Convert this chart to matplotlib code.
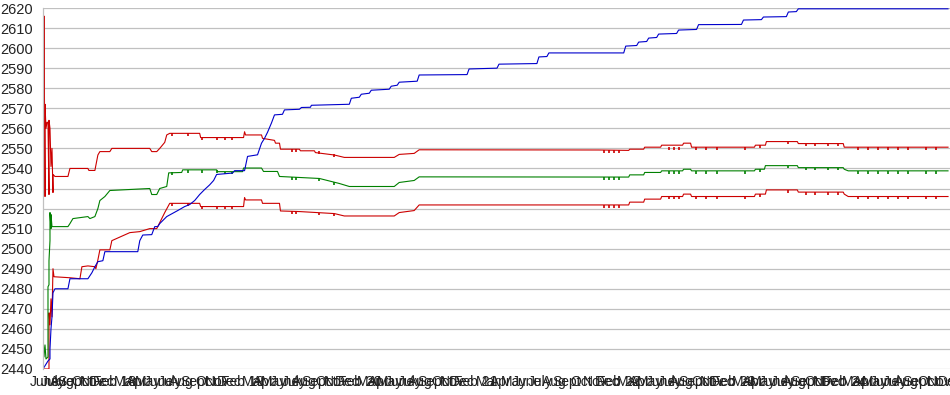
import matplotlib
matplotlib.use("Agg")
import matplotlib.pyplot as plt

# game index = pixel column - 43 in the reference
blue_x = [0, 5, 7, 7, 8, 9, 10, 12, 25, 27, 45, 49, 52, 55, 60, 62, 95, 97, 100, 109, 112, 115, 117,
          124, 135, 142, 147, 152, 157, 162, 167, 171, 174, 190, 192, 202, 205, 215, 219, 222,
          225, 229, 232, 240, 242, 257, 259, 268, 269, 307, 309, 317, 319, 327, 329, 347, 349, 355,
          357, 375, 377, 425, 427, 455, 457, 495, 497, 505, 507, 582, 584, 595, 597, 605, 607, 615,
          617, 635, 637, 655, 657, 700, 702, 720, 722, 745, 747, 755, 757, 907]
blue_y = [2440, 2444, 2445, 2450, 2460, 2466, 2478, 2480, 2480, 2485, 2485, 2488, 2491, 2493.5, 2494,
          2498.5, 2498.5, 2504, 2506.8, 2507, 2511, 2511, 2512.5, 2516, 2519, 2521, 2522,
          2524, 2527, 2529.5, 2531.8, 2534, 2537, 2537.7, 2538.9, 2538.9, 2546, 2546.8, 2552.6,
          2555, 2558, 2562.7, 2566.7, 2567, 2569.2, 2569.5, 2570.4, 2570.5, 2571.5, 2572, 2575,
          2575.5, 2577, 2577.5, 2579, 2579.5, 2581, 2581.5, 2583, 2583.5, 2586.6, 2586.8, 2589.6,
          2590, 2592, 2592.3, 2595.6, 2595.8, 2597.6, 2597.6, 2601, 2601.3, 2603, 2603.3, 2605,
          2605.3, 2607, 2607.3, 2609, 2609.3, 2611.7, 2611.8, 2614, 2614.2, 2615.5, 2615.7, 2618,
          2618.2, 2619.6, 2619.6]

green_x = [0, 0, 1, 2, 3, 5, 5, 6, 6, 7, 7, 8, 8, 9, 25, 27, 30, 45, 47, 52, 55, 57, 62, 67, 107,
           109, 114, 117, 124, 126, 139, 140, 174, 175, 200, 201, 219, 221, 235, 237, 257, 277, 297,
           307, 352, 357, 372, 377, 587, 588, 602, 603, 619, 620, 641, 642, 649, 650, 713, 714, 723,
           724, 756, 757, 802, 803, 807, 907]
green_y = [2440, 2458, 2446, 2452, 2445, 2446, 2481, 2482, 2494, 2504, 2518, 2510, 2517, 2511, 2511,
           2512.5, 2515, 2516, 2515, 2516, 2520, 2524, 2526, 2529, 2530, 2527, 2527, 2530, 2531,
           2537.8, 2538, 2539.3, 2539.3, 2538.4, 2538.4, 2540.2, 2540.2, 2538.5, 2538.5, 2536,
           2535.5, 2535, 2532.5, 2531, 2531, 2533, 2534, 2535.8, 2535.7, 2536.8, 2536.8, 2538,
           2538, 2538.8, 2538.8, 2539.6, 2539.6, 2538.8, 2538.8, 2539.6, 2539.6, 2541.4, 2541.4,
           2540.4, 2540.4, 2539.6, 2538.8, 2538.8]

upper_x = [0, 0, 1, 1, 2, 2, 3, 4, 5, 6, 6, 7, 8, 9, 10, 10, 12, 25, 26, 27, 45, 46, 52, 55, 57, 67,
           69, 107, 109, 114, 117, 122, 124, 127, 157, 158, 201, 202, 203, 219, 220, 232, 233, 237,
           238, 257, 258, 272, 273, 292, 302, 352, 357, 372, 377, 557, 587, 588, 602, 603, 619,
           620, 641, 642, 649, 650, 713, 714, 724, 725, 756, 757, 802, 803, 907]
upper_y = [2560, 2588, 2560, 2616, 2526, 2572, 2560, 2563, 2563, 2527, 2564, 2560, 2541, 2550, 2528,
           2537, 2536, 2536, 2538, 2540, 2540, 2539, 2539, 2546.7, 2548.4, 2548.4, 2550, 2550,
           2548.4, 2548.4, 2550, 2553, 2556.7, 2557.5, 2557.5, 2555.4, 2555.4, 2558.3, 2556.7,
           2556.7, 2555, 2554, 2552.6, 2552.6, 2549.6, 2549.6, 2548.8, 2548.8, 2547.9, 2546.7,
           2545.5, 2545.5, 2547, 2547.5, 2549.3, 2549.2, 2549, 2549.6, 2549.6, 2550.6, 2550.6,
           2551.6, 2551.6, 2552.6, 2552.6, 2550.6, 2550.6, 2551.6, 2551.6, 2553.4, 2553.4, 2552.4,
           2552.4, 2550.6, 2550.6]

lower_x = [0, 6, 6, 7, 8, 9, 10, 11, 27, 37, 39, 45, 52, 53, 55, 57, 67, 69, 87, 97, 107, 114, 117,
           122, 127, 157, 158, 201, 202, 203, 219, 220, 237, 238, 257, 292, 302, 352, 357, 372, 377,
           587, 588, 602, 603, 619, 620, 641, 642, 649, 650, 713, 714, 724, 725, 756, 757, 802, 803,
           807, 907]
lower_y = [2440, 2440, 2468, 2462, 2475, 2466, 2490, 2486, 2485.5, 2485, 2491, 2491.4, 2491, 2490,
           2494.4, 2499.4, 2499.4, 2504, 2508, 2508.5, 2510, 2510, 2513, 2518, 2522.6, 2522.6, 2521,
           2521, 2525.5, 2524.3, 2524.3, 2522.6, 2522.6, 2518.8, 2518.5, 2517.5, 2516.3, 2516.3,
           2518, 2519, 2521.8, 2521.8, 2523.2, 2523.2, 2524.7, 2524.7, 2526, 2526, 2527.2, 2527.2,
           2526, 2526, 2527.2, 2527.2, 2529.3, 2529.3, 2528.2, 2528.2, 2527.2, 2526, 2526]

# single-game dips seen on the three estimate lines (game, value before the dip)
spike_games = [129, 145, 159, 174, 182, 189, 250, 254, 277, 292, 562, 567, 572, 577, 627, 632,
               637, 654, 664, 675, 704, 719, 747, 765, 774, 787, 797, 817, 827, 837, 847, 857,
               867, 885, 895]
upper_spike = [2557.5, 2557.5, 2555.4, 2555.4, 2555.4, 2555.4, 2549.6, 2549.6, 2548.8, 2547,
               2549.1, 2549.1, 2549.1, 2549.1, 2550.6, 2550.6, 2550.6, 2550.6, 2550.6, 2550.6,
               2550.6, 2551.6, 2553.4, 2552.4, 2552.4, 2552.4, 2552.4, 2550.6, 2550.6, 2550.6,
               2550.6, 2550.6, 2550.6, 2550.6, 2550.6]
green_spike = [2538, 2539.3, 2539.3, 2539.3, 2538.4, 2538.4, 2535.8, 2535.7, 2535, 2533,
               2535.7, 2535.7, 2535.7, 2535.7, 2538.8, 2538.8, 2538.8, 2538.8, 2538.8, 2538.8,
               2538.8, 2539.6, 2541.4, 2540.4, 2540.4, 2540.4, 2540.4, 2538.8, 2538.8, 2538.8,
               2538.8, 2538.8, 2538.8, 2538.8, 2538.8]
lower_spike = [2522.6, 2522.6, 2521, 2521, 2521, 2521, 2518.7, 2518.6, 2518, 2517.5,
               2521.8, 2521.8, 2521.8, 2521.8, 2526, 2526, 2526, 2526, 2526, 2526,
               2526, 2527.2, 2529.3, 2528.2, 2528.2, 2528.2, 2528.2, 2526, 2526, 2526,
               2526, 2526, 2526, 2526, 2526]
dip = 1.4

month_pos = [2, 10, 19, 29, 39, 49, 59,
             72, 83, 94, 105, 116, 127, 139, 152, 164, 175, 187,
             200, 211, 221, 232, 242, 252, 262, 273, 284, 294, 305,
             317, 327, 337, 348, 358, 368, 378, 389, 400, 410, 420,
             434, 446, 459, 472, 485, 498, 512, 525, 539, 553, 565,
             577, 587, 598, 608, 619, 629, 640, 651, 661, 671, 681,
             692, 702, 712, 722, 732, 742, 753, 763, 774, 784, 792,
             803, 813, 823, 834, 844, 854, 865, 876, 887, 898, 909]
month_names = ["June", "July", "Aug", "Sept", "Oct", "Nov", "Dec"]
for yr in ["18", "19", "20", "21", "22", "23", "24"]:
    month_names += ["Feb " + yr, "Mar", "Apr", "May", "June", "July", "Aug", "Sept", "Oct", "Nov", "Dec"]

yticks = list(range(2440, 2621, 10))

font = ["Liberation Sans", "DejaVu Sans"]

fig = plt.figure(figsize=(9.5, 3.95), dpi=100)
ax = fig.add_axes([43 / 950, 26 / 395, 907 / 950, 361 / 395])

red = "#cc0000"
green = "#008000"
ax.plot(upper_x, upper_y, color=red, lw=0.8)
ax.plot(lower_x, lower_y, color=red, lw=0.8)
ax.plot(green_x, green_y, color=green, lw=0.8)
ax.vlines(spike_games, [v - dip for v in upper_spike], upper_spike, color=red, lw=1.2)
ax.vlines(spike_games, [v - dip for v in lower_spike], lower_spike, color=red, lw=1.2)
ax.vlines(spike_games, [v - dip for v in green_spike], green_spike, color=green, lw=1.2)
ax.plot(blue_x, blue_y, color="#0000cc", lw=0.8)

n = min(len(month_pos), len(month_names))
ax.set_xlim(0, 907)
ax.set_ylim(2440, 2620)
ax.set_yticks(yticks)
ax.set_xticks(month_pos[:n])
ax.set_xticklabels(month_names[:n])
ax.grid(axis="y", color="#c0c0c0", lw=0.9)
ax.set_axisbelow(True)
for s in ["top", "right", "bottom"]:
    ax.spines[s].set_visible(False)
ax.spines["left"].set_color("#c0c0c0")
ax.spines["left"].set_linewidth(0.9)
ax.tick_params(length=0, colors="#222222", labelsize=10.5)
ax.tick_params(axis="y", pad=7)
ax.tick_params(axis="x", pad=4, labelsize=10)
for t in ax.get_xticklabels() + ax.get_yticklabels():
    t.set_family(font)
    t.set_clip_on(False)

fig.savefig("out.png", dpi=100)
